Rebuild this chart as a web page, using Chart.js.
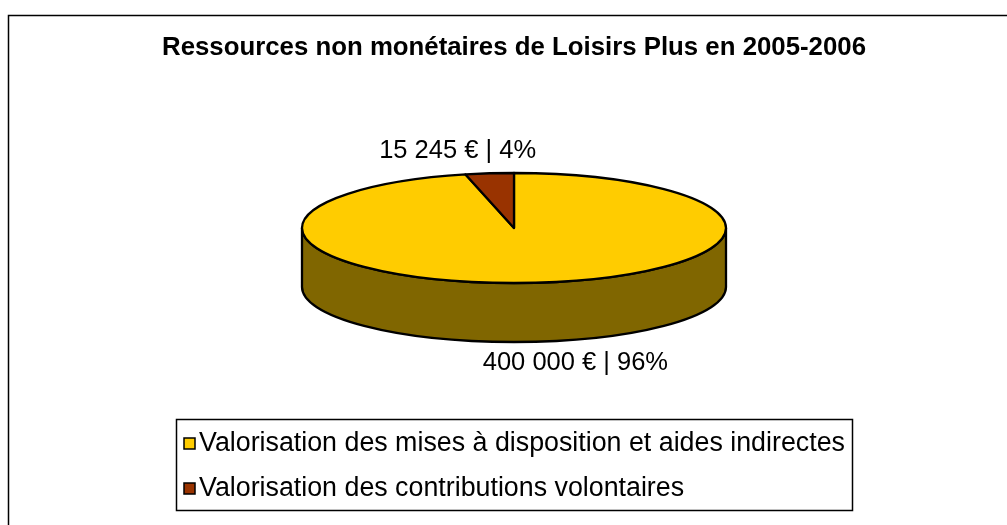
<!DOCTYPE html>
<html>
<head>
<meta charset="utf-8">
<script src="https://cdn.jsdelivr.net/npm/chart.js@4.4.1/dist/chart.umd.min.js"></script>
<style>
html,body{margin:0;padding:0;background:#fff;}
#wrap{width:1007px;height:525px;position:relative;}
</style>
</head>
<body>
<div id="wrap"><canvas id="c" width="1007" height="525"></canvas></div>
<script>
const title = 'Ressources non monétaires de Loisirs Plus en 2005-2006';
const categories = ['Valorisation des mises à disposition et aides indirectes', 'Valorisation des contributions volontaires'];
const values = [400000, 15245];
const valueLabels = ['400 000 €', '15 245 €'];
const topColors = ['#FFCC00', '#993300'];
const sideColors = ['#806600', '#4D1A00'];

const FONT = '"Liberation Sans", Arial, sans-serif';
const TILT = 55 / 212;
const DEPTH = 59 / 212;
// label offsets from the slice anchor (layout only)
const labelOffsets = [[37, 21], [-32, -22]];

function ellipsePt(cx, cy, rx, ry, a) { return [cx + rx * Math.cos(a), cy + ry * Math.sin(a)]; }

const pie3d = {
  id: 'pie3d',
  beforeDatasetsDraw(chart) {
    const ctx = chart.ctx;
    const meta = chart.getDatasetMeta(0);
    const arcs = meta.data;
    if (!arcs.length) return false;
    const cx = arcs[0].x, cy = arcs[0].y;
    const rx = arcs[0].outerRadius, ry = rx * TILT, d = rx * DEPTH;
    ctx.save();
    ctx.lineJoin = 'round';
    ctx.strokeStyle = '#000';
    ctx.lineWidth = 2.3;
    // side walls (front half only)
    arcs.forEach((arc, i) => {
      let s = arc.startAngle, e = arc.endAngle;
      for (let k = -1; k <= 1; k++) {
        const lo = Math.max(s, 2 * Math.PI * k), hi = Math.min(e, Math.PI + 2 * Math.PI * k);
        if (hi <= lo) continue;
        ctx.beginPath();
        ctx.ellipse(cx, cy, rx, ry, 0, lo, hi, false);
        const p2 = ellipsePt(cx, cy, rx, ry, hi);
        ctx.lineTo(p2[0], p2[1] + d);
        ctx.ellipse(cx, cy + d, rx, ry, 0, hi, lo, true);
        ctx.closePath();
        ctx.fillStyle = sideColors[i];
        ctx.fill();
        ctx.stroke();
      }
    });
    // top faces
    arcs.forEach((arc, i) => {
      ctx.beginPath();
      ctx.moveTo(cx, cy);
      ctx.ellipse(cx, cy, rx, ry, 0, arc.startAngle, arc.endAngle, false);
      ctx.closePath();
      ctx.fillStyle = topColors[i];
      ctx.fill();
      ctx.stroke();
    });
    ctx.restore();
    return false;
  },
  afterDraw(chart) {
    const ctx = chart.ctx;
    const meta = chart.getDatasetMeta(0);
    const arcs = meta.data;
    const cx = arcs[0].x, cy = arcs[0].y;
    const rx = arcs[0].outerRadius, ry = rx * TILT, d = rx * DEPTH;
    const total = values.reduce((a, b) => a + b, 0);
    ctx.save();
    // outer frame
    ctx.strokeStyle = '#000';
    ctx.lineWidth = 1.5;
    ctx.strokeRect(8.5, 15.5, 1100, 600);
    // title
    ctx.fillStyle = '#000';
    ctx.textAlign = 'center';
    ctx.textBaseline = 'middle';
    ctx.font = 'bold 25.8px ' + FONT;
    ctx.fillText(title, 514, 48);
    // data labels
    ctx.font = '25.5px ' + FONT;
    arcs.forEach((arc, i) => {
      const mid = (arc.startAngle + arc.endAngle) / 2;
      let [x, y] = ellipsePt(cx, cy, rx, ry, mid);
      if (Math.sin(mid) > 0) y += d;
      const pct = Math.round(values[i] / total * 100);
      ctx.fillText(valueLabels[i] + ' | ' + pct + '%', x + labelOffsets[i][0], y + labelOffsets[i][1]);
    });
    // legend
    ctx.lineWidth = 1.5;
    ctx.strokeRect(176.5, 419.5, 676, 91);
    ctx.textAlign = 'left';
    ctx.font = '26.8px ' + FONT;
    categories.forEach((c, i) => {
      const y = 443 + i * 45;
      ctx.fillStyle = topColors[i];
      ctx.fillRect(184, y - 5, 11, 11);
      ctx.lineWidth = 1.5;
      ctx.strokeRect(184, y - 5, 11, 11);
      ctx.fillStyle = '#000';
      ctx.fillText(c, 199, y + 1);
    });
    ctx.restore();
  }
};

new Chart(document.getElementById('c'), {
  type: 'pie',
  data: {
    labels: categories,
    datasets: [{ data: values, backgroundColor: topColors, borderColor: '#000', borderWidth: 0 }]
  },
  options: {
    responsive: false,
    animation: false,
    radius: 212,
    layout: { padding: { left: 302, right: 281, top: 16, bottom: 85 } },
    plugins: { legend: { display: false }, title: { display: false }, tooltip: { enabled: false } }
  },
  plugins: [pie3d]
});
</script>
</body>
</html>
